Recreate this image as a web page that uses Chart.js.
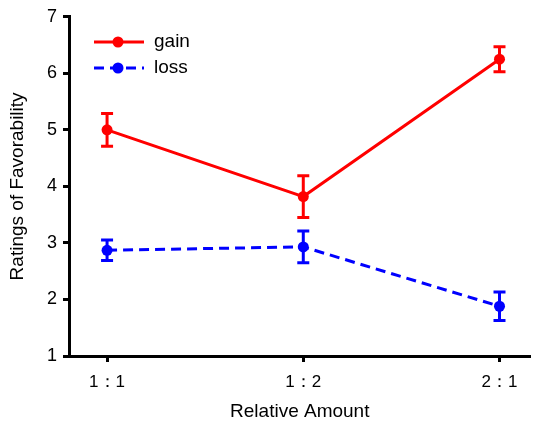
<!DOCTYPE html>
<html>
<head>
<meta charset="utf-8">
<script src="https://cdn.jsdelivr.net/npm/chart.js@4"></script>
<style>
  body { margin: 0; background: #fff; }
  #wrap { width: 536px; height: 427px; }
</style>
</head>
<body>
<div id="wrap"><canvas id="chart" width="536" height="427"></canvas></div>
<script>
const categories = ['1\uFF1A1', '1\uFF1A2', '2\uFF1A1'];
const gainValues = [5.0, 3.82, 6.25];
const gainErrors = [0.29, 0.37, 0.22];
const lossValues = [2.87, 2.93, 1.88];
const lossErrors = [0.18, 0.28, 0.25];
const yTicks = [1, 2, 3, 4, 5, 6, 7];

const FONT = '"Liberation Sans", Arial, sans-serif';
const toPoints = vals => vals.map((v, i) => ({ x: i, y: v }));

// error bars with caps, drawn through the chart scales
const errorBars = {
  id: 'errorBars',
  afterDatasetsDraw(chart) {
    const { ctx, scales: { x, y } } = chart;
    chart.data.datasets.forEach(ds => {
      ctx.save();
      ctx.strokeStyle = ds.borderColor;
      ctx.lineWidth = 3;
      ds.data.forEach((p, i) => {
        const px = x.getPixelForValue(p.x);
        const top = y.getPixelForValue(p.y + ds.errors[i]);
        const bot = y.getPixelForValue(p.y - ds.errors[i]);
        ctx.beginPath();
        ctx.moveTo(px, top); ctx.lineTo(px, bot);
        ctx.moveTo(px - 6, top); ctx.lineTo(px + 6, top);
        ctx.moveTo(px - 6, bot); ctx.lineTo(px + 6, bot);
        ctx.stroke();
      });
      ctx.restore();
    });
  }
};

// legend sitting inside the plot, top left
const insideLegend = {
  id: 'insideLegend',
  afterDraw(chart) {
    const ctx = chart.ctx;
    chart.data.datasets.forEach((ds, i) => {
      const cy = 42 + i * 26;
      ctx.save();
      ctx.strokeStyle = ds.borderColor;
      ctx.fillStyle = ds.borderColor;
      ctx.lineWidth = 3;
      ctx.setLineDash(ds.borderDash || []);
      ctx.beginPath();
      ctx.moveTo(94, cy); ctx.lineTo(144, cy);
      ctx.stroke();
      ctx.setLineDash([]);
      ctx.beginPath();
      ctx.arc(118, cy, 5.5, 0, Math.PI * 2);
      ctx.fill();
      ctx.fillStyle = '#000';
      ctx.font = '19px ' + FONT;
      ctx.textBaseline = 'middle';
      ctx.fillText(ds.label, 154, cy);
      ctx.restore();
    });
  }
};

new Chart(document.getElementById('chart'), {
  type: 'line',
  data: {
    datasets: [
      {
        label: 'gain',
        data: toPoints(gainValues),
        errors: gainErrors,
        borderColor: '#ff0000',
        backgroundColor: '#ff0000',
        borderWidth: 3,
        pointRadius: 5.5,
        pointBorderWidth: 0,
        tension: 0
      },
      {
        label: 'loss',
        data: toPoints(lossValues),
        errors: lossErrors,
        borderColor: '#0000ff',
        backgroundColor: '#0000ff',
        borderWidth: 3,
        borderDash: [10, 6],
        pointRadius: 5.5,
        pointBorderWidth: 0,
        tension: 0
      }
    ]
  },
  options: {
    responsive: false,
    animation: false,
    layout: { padding: { top: 10, right: 0, left: 0, bottom: 0 } },
    plugins: { legend: { display: false }, tooltip: { enabled: false } },
    scales: {
      x: {
        type: 'linear',
        min: -0.194,
        max: 2.158,
        afterBuildTicks: axis => { axis.ticks = categories.map((c, i) => ({ value: i })); },
        afterFit: axis => { axis.height = 71; },
        ticks: {
          callback: v => categories[v],
          color: '#000',
          font: { size: 17, family: FONT },
          padding: 10
        },
        grid: { drawOnChartArea: false, drawTicks: true, tickLength: 6, tickWidth: 3, color: '#000' },
        border: { display: true, width: 3, color: '#000' },
        title: {
          display: true,
          text: 'Relative Amount',
          color: '#000',
          font: { size: 19, family: FONT },
          padding: { top: 12 }
        }
      },
      y: {
        min: 1,
        max: 7,
        afterBuildTicks: axis => { axis.ticks = yTicks.map(v => ({ value: v })); },
        afterFit: axis => { axis.width = 69; },
        ticks: {
          color: '#000',
          font: { size: 18, family: FONT },
          padding: 6
        },
        grid: { drawOnChartArea: false, drawTicks: true, tickLength: 6, tickWidth: 3, color: '#000' },
        border: { display: true, width: 3, color: '#000' },
        title: {
          display: true,
          text: 'Ratings of Favorability',
          color: '#000',
          font: { size: 19, family: FONT },
          padding: { top: 6, bottom: 4 }
        }
      }
    }
  },
  plugins: [errorBars, insideLegend]
});
</script>
</body>
</html>
